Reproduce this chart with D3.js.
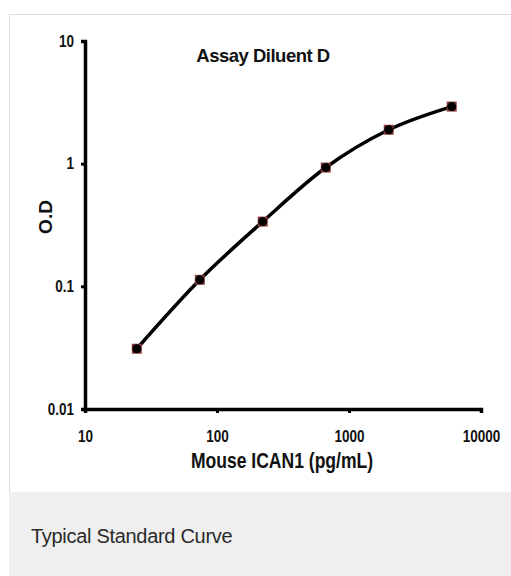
<!DOCTYPE html>
<html>
<head>
<meta charset="utf-8">
<script src="https://cdn.jsdelivr.net/npm/d3@7"></script>
<style>
  body { margin: 0; background: #fff; }
  svg text { font-family: "Liberation Sans", Arial, sans-serif; }
</style>
</head>
<body>
<div id="chart"></div>
<script>
// standard curve, 3-fold dilutions
const concentrations = [24.7, 74.1, 222, 667, 2000, 6000];
const odValues = [0.031, 0.113, 0.337, 0.93, 1.89, 2.92];
const xTicks = [10, 100, 1000, 10000];
const yTicks = [0.01, 0.1, 1, 10];
const chartTitle = 'Assay Diluent D';
const xTitle = 'Mouse ICAN1 (pg/mL)';
const yTitle = 'O.D';
const caption = 'Typical Standard Curve';

const width = 511, height = 576;
const narrow = 0.82; // fake "narrow" font by squeezing text

const svg = d3.select('#chart')
  .append('svg')
  .attr('width', width)
  .attr('height', height);

// panel + caption band
svg.append('rect')
  .attr('x', 9.5).attr('y', 14.5)
  .attr('width', width).attr('height', 478)
  .attr('fill', '#fff').attr('stroke', '#dcdcdc');
svg.append('rect')
  .attr('x', 9).attr('y', 492)
  .attr('width', width).attr('height', height - 492)
  .attr('fill', '#efefef');
svg.append('text')
  .attr('x', 31).attr('y', 543)
  .style('font-size', '20px')
  .style('letter-spacing', '-0.3px')
  .attr('fill', '#2a2a2a')
  .text(caption);

const x = d3.scaleLog().domain([10, 10000]).range([85, 481]);
const y = d3.scaleLog().domain([0.01, 10]).range([409, 41]);

// y axis
const yAxis = svg.append('g')
  .attr('transform', 'translate(85,0)')
  .call(d3.axisLeft(y).tickValues(yTicks).tickFormat(d3.format('~g')).tickSize(4));
// x axis
const xAxis = svg.append('g')
  .attr('transform', 'translate(0,409)')
  .call(d3.axisBottom(x).tickValues(xTicks).tickFormat(d3.format('~g')).tickSize(4).tickPadding(17));

[xAxis, yAxis].forEach(g => {
  g.select('.domain').attr('stroke', '#000').attr('stroke-width', 3.5);
  g.selectAll('.tick line').attr('stroke', '#000').attr('stroke-width', 3);
  g.selectAll('.tick text')
    .attr('fill', '#111')
    .attr('transform', `scale(${narrow},1)`)
    .style('font-size', '16.5px')
    .style('font-weight', '600');
});
yAxis.selectAll('.tick text').attr('x', -11 / narrow);

// titles
svg.append('text')
  .attr('x', 263).attr('y', 62)
  .attr('text-anchor', 'middle')
  .style('font-size', '18.5px')
  .style('font-weight', 'bold')
  .style('letter-spacing', '-0.5px')
  .attr('fill', '#111')
  .text(chartTitle);

svg.append('text')
  .attr('transform', 'translate(282,468) scale(0.78,1)')
  .attr('text-anchor', 'middle')
  .style('font-size', '22.5px')
  .style('font-weight', 'bold')
  .attr('fill', '#111')
  .text(xTitle);

svg.append('text')
  .attr('transform', 'translate(52,217) rotate(-90)')
  .attr('text-anchor', 'middle')
  .style('font-size', '19px')
  .style('font-weight', 'bold')
  .attr('fill', '#111')
  .text(yTitle);

const data = concentrations.map((c, i) => ({ c: c, od: odValues[i] }));

// fitted curve
const line = d3.line()
  .x(d => x(d.c))
  .y(d => y(d.od))
  .curve(d3.curveMonotoneX);

svg.append('path')
  .datum(data)
  .attr('d', line)
  .attr('fill', 'none')
  .attr('stroke', '#000')
  .attr('stroke-width', 3.5);

// markers
const pts = svg.selectAll('.pt')
  .data(data)
  .enter()
  .append('g')
  .attr('class', 'pt')
  .attr('transform', d => `translate(${x(d.c)},${y(d.od)})`);
pts.append('rect')
  .attr('x', -5).attr('y', -5)
  .attr('width', 10).attr('height', 10)
  .attr('fill', '#8a3a3a');
pts.append('circle')
  .attr('r', 4.5)
  .attr('fill', '#000');
</script>
</body>
</html>
